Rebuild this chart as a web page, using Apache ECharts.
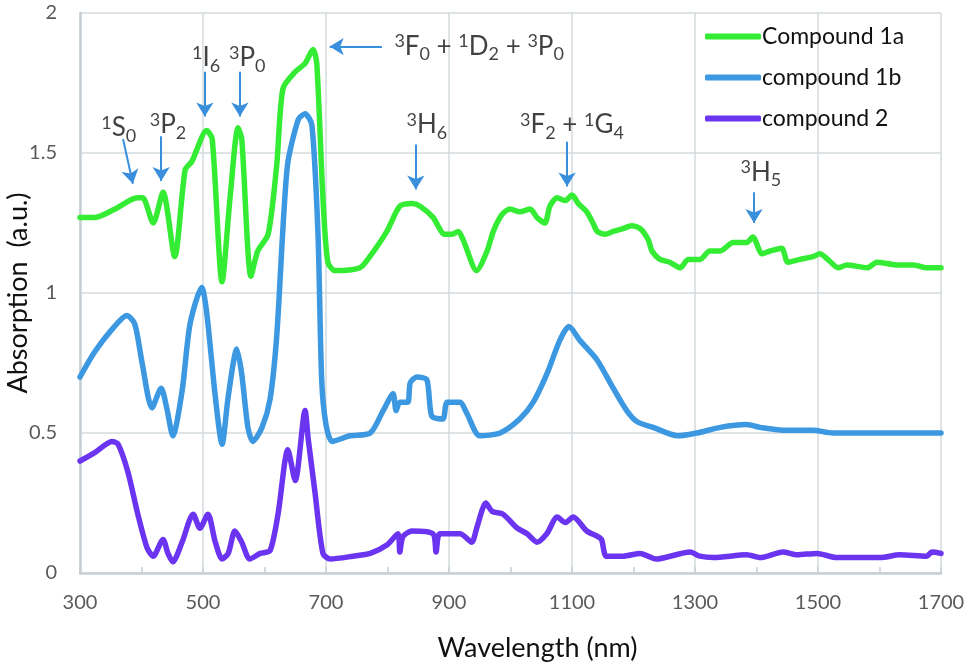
<!DOCTYPE html>
<html>
<head>
<meta charset="utf-8">
<script src="https://cdn.jsdelivr.net/npm/echarts@6/dist/echarts.min.js"></script>
<style>
  html, body { margin: 0; padding: 0; background: #fff; }
  #main { width: 969px; height: 667px; }
</style>
</head>
<body>
<div id="main"></div>
<script>
// wavelengths (nm) and absorption (a.u.)
var wl1a = [300, 324, 357, 393, 402, 419, 435, 454, 471, 482, 506, 515, 531, 544, 557, 563, 578, 589, 606, 620, 630, 650, 666, 679, 685, 695, 703, 715, 755, 768, 799, 820, 840, 853, 874, 893, 905, 915, 923, 945, 962, 972, 986, 999, 1015, 1032, 1043, 1056, 1064, 1076, 1089, 1100, 1110, 1124, 1134, 1141, 1154, 1167, 1183, 1197, 1211, 1224, 1230, 1243, 1259, 1276, 1289, 1308, 1324, 1341, 1362, 1384, 1394, 1409, 1422, 1441, 1451, 1471, 1492, 1503, 1516, 1533, 1547, 1580, 1596, 1628, 1655, 1677, 1700];
var abs1a = [1.27, 1.27, 1.30, 1.34, 1.34, 1.25, 1.36, 1.13, 1.44, 1.47, 1.58, 1.55, 1.04, 1.34, 1.59, 1.55, 1.06, 1.15, 1.21, 1.46, 1.73, 1.79, 1.82, 1.87, 1.82, 1.34, 1.11, 1.08, 1.09, 1.12, 1.22, 1.31, 1.32, 1.31, 1.27, 1.21, 1.21, 1.22, 1.19, 1.08, 1.15, 1.22, 1.28, 1.30, 1.29, 1.30, 1.27, 1.25, 1.31, 1.34, 1.33, 1.35, 1.32, 1.29, 1.25, 1.22, 1.21, 1.22, 1.23, 1.24, 1.23, 1.19, 1.15, 1.12, 1.11, 1.09, 1.12, 1.12, 1.15, 1.15, 1.18, 1.18, 1.20, 1.14, 1.15, 1.16, 1.11, 1.12, 1.13, 1.14, 1.12, 1.09, 1.10, 1.09, 1.11, 1.10, 1.10, 1.09, 1.09];

var wl1b = [300, 324, 352, 376, 389, 401, 417, 432, 441, 451, 466, 479, 498, 506, 520, 531, 541, 555, 563, 573, 581, 596, 609, 620, 637, 655, 666, 677, 687, 693, 700, 710, 739, 772, 793, 809, 814, 820, 833, 837, 848, 864, 872, 890, 897, 918, 929, 950, 983, 1015, 1037, 1059, 1080, 1095, 1113, 1141, 1167, 1189, 1206, 1232, 1272, 1303, 1341, 1384, 1406, 1443, 1492, 1524, 1573, 1601, 1633, 1655, 1700];
var abs1b = [0.70, 0.79, 0.87, 0.92, 0.89, 0.75, 0.59, 0.66, 0.59, 0.49, 0.65, 0.89, 1.02, 0.93, 0.63, 0.46, 0.63, 0.80, 0.71, 0.52, 0.47, 0.52, 0.62, 0.85, 1.45, 1.62, 1.64, 1.60, 1.21, 0.69, 0.53, 0.47, 0.49, 0.50, 0.58, 0.64, 0.58, 0.61, 0.61, 0.68, 0.70, 0.69, 0.56, 0.55, 0.61, 0.61, 0.57, 0.49, 0.50, 0.55, 0.61, 0.71, 0.83, 0.88, 0.83, 0.76, 0.66, 0.58, 0.54, 0.52, 0.49, 0.50, 0.52, 0.53, 0.52, 0.51, 0.51, 0.50, 0.50, 0.50, 0.50, 0.50, 0.50];

var wl2 = [300, 324, 352, 362, 378, 394, 409, 419, 435, 443, 451, 466, 484, 495, 508, 520, 531, 541, 552, 563, 576, 593, 609, 622, 638, 650, 666, 671, 682, 695, 707, 744, 772, 799, 817, 820, 825, 840, 874, 879, 885, 918, 937, 945, 960, 970, 988, 1011, 1027, 1043, 1059, 1076, 1089, 1102, 1124, 1142, 1148, 1156, 1183, 1211, 1237, 1292, 1308, 1330, 1384, 1406, 1443, 1466, 1498, 1531, 1573, 1601, 1633, 1677, 1685, 1700];
var abs2 = [0.40, 0.43, 0.47, 0.46, 0.36, 0.21, 0.09, 0.06, 0.12, 0.07, 0.04, 0.11, 0.21, 0.16, 0.21, 0.11, 0.05, 0.07, 0.15, 0.11, 0.05, 0.07, 0.08, 0.21, 0.44, 0.33, 0.58, 0.48, 0.29, 0.07, 0.05, 0.06, 0.07, 0.10, 0.14, 0.075, 0.13, 0.15, 0.14, 0.075, 0.14, 0.14, 0.11, 0.16, 0.25, 0.22, 0.21, 0.16, 0.14, 0.11, 0.14, 0.20, 0.18, 0.20, 0.15, 0.13, 0.12, 0.06, 0.06, 0.07, 0.05, 0.075, 0.06, 0.055, 0.065, 0.055, 0.075, 0.065, 0.07, 0.055, 0.055, 0.055, 0.065, 0.06, 0.075, 0.07];

var seriesNames = ['Compound 1a', 'compound 1b', 'compound 2'];
var seriesColors = ['#35ec35', '#3d98e2', '#6a34f0'];

// term symbols: label anchor [nm, abs], arrow start and arrow tip
var termLabels = [
  '{sup|1}{b|S}{sub|0}',
  '{sup|3}{b|P}{sub|2}',
  '{sup|1}{b|I}{sub|6}',
  '{sup|3}{b|P}{sub|0}',
  '{sup|3}{b|F}{sub|0}{b| + }{sup|1}{b|D}{sub|2}{b| + }{sup|3}{b|P}{sub|0}',
  '{sup|3}{b|H}{sub|6}',
  '{sup|3}{b|F}{sub|2}{b| + }{sup|1}{b|G}{sub|4}',
  '{sup|3}{b|H}{sub|5}'
];
var termAt = [[363, 1.59], [443, 1.60], [505, 1.84], [572, 1.84], [949, 1.88], [864, 1.60], [1100, 1.60], [1407, 1.43]];
var arrowFrom = [[370, 1.55], [432, 1.56], [503, 1.79], [560, 1.79], [791, 1.88], [846, 1.53], [1092, 1.54], [1396, 1.36]];
var arrowTo = [[386, 1.39], [432, 1.40], [503, 1.63], [560, 1.63], [706, 1.88], [846, 1.37], [1092, 1.38], [1396, 1.25]];

function zip(xs, ys) {
  return xs.map(function (x, i) { return [x, ys[i]]; });
}

var chart = echarts.init(document.getElementById('main'));
var font = 'Lato, "Open Sans", sans-serif';
var gridColor = '#d3dade';

var lineSeries = [zip(wl1a, abs1a), zip(wl1b, abs1b), zip(wl2, abs2)].map(function (d, i) {
  return {
    name: seriesNames[i],
    type: 'line',
    data: d,
    showSymbol: false,
    smooth: 0.25,
    color: seriesColors[i],
    lineStyle: { width: 5.5, color: seriesColors[i], cap: 'round', join: 'round' },
    z: 3 - i
  };
});

var option = {
  backgroundColor: '#fff',
  animation: false,
  grid: { left: 80, right: 28, top: 13, bottom: 94, containLabel: false, outerBoundsMode: 'none' },
  legend: {
    data: seriesNames,
    orient: 'vertical',
    left: 700,
    top: 20,
    itemWidth: 56,
    itemHeight: 6,
    itemGap: 18,
    icon: 'roundRect',
    textStyle: { fontFamily: font, fontSize: 23, color: '#111', padding: [0, 0, 0, -4] }
  },
  xAxis: {
    type: 'value',
    min: 300,
    max: 1700,
    interval: 200,
    name: 'Wavelength (nm)',
    nameLocation: 'middle',
    nameGap: 62,
    nameMoveOverlap: false,
    nameTextStyle: { fontFamily: font, fontSize: 27, color: '#111', padding: [0, 0, 0, 54] },
    axisLine: { lineStyle: { color: '#c5cfd4', width: 2.5 } },
    axisTick: { show: true, inside: true, length: 6, lineStyle: { color: '#c5cfd4', width: 1.5 } },
    minorTick: { show: true, splitNumber: 2, length: 6, lineStyle: { color: '#c5cfd4', width: 1.5 } },
    axisLabel: { fontFamily: font, fontSize: 20, color: '#5a5a5a', margin: 20, formatter: function (v) { return String(v); } },
    splitLine: { show: true, lineStyle: { color: gridColor, width: 1.5 } }
  },
  yAxis: {
    type: 'value',
    min: 0,
    max: 2,
    interval: 0.5,
    name: 'Absorption  (a.u.)',
    nameLocation: 'middle',
    nameGap: 48,
    nameMoveOverlap: false,
    nameTextStyle: { fontFamily: font, fontSize: 27, color: '#111' },
    axisLine: { show: true, lineStyle: { color: '#c5cfd4', width: 2.5 } },
    axisTick: { show: false },
    axisLabel: { fontFamily: font, fontSize: 20, color: '#5a5a5a', margin: 23 },
    splitLine: { show: true, lineStyle: { color: gridColor, width: 1.5 } }
  },
  series: lineSeries.concat([
    {
      name: 'arrows',
      type: 'line',
      data: [],
      silent: true,
      markLine: {
        silent: true,
        symbol: ['none', 'arrow'],
        symbolSize: [13, 14],
        label: { show: false },
        lineStyle: { color: '#3a8fdc', width: 2, type: 'solid' },
        data: arrowFrom.map(function (p, i) {
          return [{ coord: p }, { coord: arrowTo[i] }];
        })
      }
    },
    {
      name: 'terms',
      type: 'scatter',
      silent: true,
      symbolSize: 0,
      data: termAt,
      z: 5,
      label: {
        show: true,
        position: 'inside',
        formatter: function (p) { return termLabels[p.dataIndex]; },
        rich: {
          b: { fontFamily: font, fontSize: 26, color: '#111', lineHeight: 30 },
          sup: { fontFamily: font, fontSize: 18, color: '#111', lineHeight: 18, padding: [0, 0, 10, 0] },
          sub: { fontFamily: font, fontSize: 18, color: '#111', lineHeight: 18, padding: [16, 0, 0, 0] }
        }
      }
    }
  ])
};

chart.setOption(option);
</script>
</body>
</html>
